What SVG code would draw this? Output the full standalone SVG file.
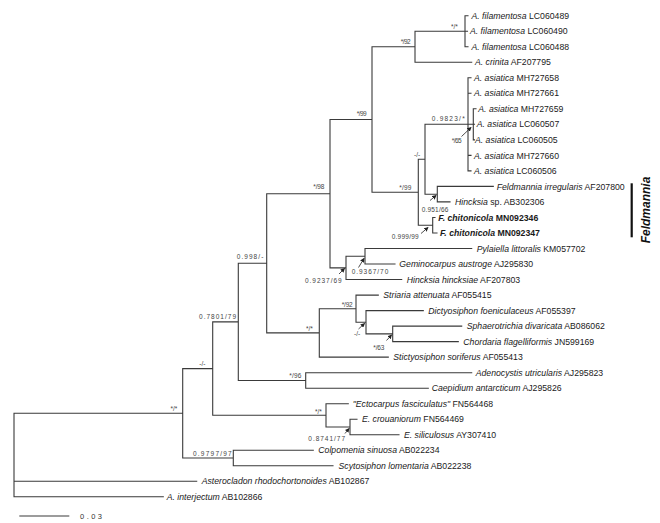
<svg xmlns="http://www.w3.org/2000/svg" width="660" height="523" viewBox="0 0 660 523">
<style>
.br{fill:none;stroke:#3a3a3a;stroke-width:1.1;stroke-linecap:square}
.lf{font-family:"Liberation Sans",Arial,sans-serif;font-size:8.7px;fill:#1a1a1a}
.it{font-style:italic}
.bd{font-weight:bold}
.sp{font-family:"Liberation Sans",Arial,sans-serif;font-size:6.5px;fill:#444}
.ar{stroke:#222;stroke-width:0.8;fill:none}
</style>
<defs>
<marker id="ah" viewBox="0 0 6 6" refX="5" refY="3" markerWidth="4.5" markerHeight="4.5" markerUnits="userSpaceOnUse" orient="auto">
<path d="M0,0 L6,3 L0,6 z" fill="#222"/>
</marker>
</defs>
<rect width="660" height="523" fill="#fff"/>
<g id="connectors">
<path class="br" d="M14,413.3 V496.8 M14,413.3 H182.7 M14,481.3 H196.7 M14,496.8 H163.3
M182.7,368.6 V458 M182.7,368.6 H212.7 M182.7,458 H233.3
M233.3,450.3 V465.8 M233.3,450.3 H313.3 M233.3,465.8 H333
M212.7,321.9 V415.3 M212.7,321.9 H238.3 M212.7,415.3 H326
M326,403.7 V427 M326,403.7 H348.3 M326,427 H350
M350,419.2 V434.7 M350,419.2 H357 M350,434.7 H399
M238.3,263.3 V380.5 M238.3,263.3 H266.7 M238.3,380.5 H305.7
M305.7,372.7 V388.2 M305.7,372.7 H471.7 M305.7,388.2 H428.3
M266.7,193.7 V332.9 M266.7,193.7 H330 M266.7,332.9 H319.3
M319.3,308.7 V357.1 M319.3,308.7 H356 M319.3,357.1 H388.3
M356,295.1 V322.3 M356,295.1 H378.3 M356,322.3 H366
M366,310.6 V333.9 M366,310.6 H423.3 M366,333.9 H392.7
M392.7,326.1 V341.6 M392.7,326.1 H461.7 M392.7,341.6 H458.3
M330,119.5 V267.9 M330,119.5 H372 M330,267.9 H346
M346,256.3 V279.5 M346,256.3 H365 M346,279.5 H401.7
M365,248.5 V264 M365,248.5 H471.7 M365,264 H395
M372,46.75 V192.3 M372,46.75 H415 M372,192.3 H418.3
M415,31.2 V62.3 M415,31.2 H465 M415,62.3 H471.7
M465,15.7 V46.7 M465,15.7 H468 M465,31.2 H467.5 M465,46.7 H468
M418.3,159.3 V225.2 M418.3,159.3 H425 M418.3,225.2 H432.7
M425,124.3 V194.2 M425,124.3 H468 M425,194.2 H437.3
M468,77.8 V170.9 M468,77.8 H471 M468,93.3 H471 M468,124.3 H473.3 M468,155.4 H471 M468,170.9 H471
M473.3,108.8 V139.9 M473.3,108.8 H476 M473.3,124.3 H474.5 M473.3,139.9 H474.5
M437.3,186.4 V201.9 M437.3,186.4 H493.3 M437.3,201.9 H450
M432.7,217.5 V233 M432.7,217.5 H435 M432.7,233 H437"/>
<path class="ar" marker-end="url(#ah)" d="M461.5,136.5 L471,127.5"/>
<path class="ar" marker-end="url(#ah)" d="M430,200.5 L436,195.5"/>
<path class="ar" marker-end="url(#ah)" d="M421,233.5 L428,227.5"/>
<path class="ar" marker-end="url(#ah)" d="M358.5,267.5 L364,258.5"/>
<path class="ar" marker-end="url(#ah)" d="M339,274 L344.5,268.5"/>
<path class="ar" marker-end="url(#ah)" d="M358.5,329 L364.5,323.5"/>
<path class="ar" marker-end="url(#ah)" d="M386.5,340.5 L391.5,335"/>
<path class="ar" marker-end="url(#ah)" d="M345,433.5 L349,428.5"/>
</g>
<g id="supports" class="sp">
<text x="451" y="28.5">*/*</text>
<text x="400.7" y="44" textLength="10">*/92</text>
<text x="356.7" y="116" textLength="10">*/99</text>
<text x="431.7" y="121" textLength="33">0.9823/*</text>
<text x="451.7" y="142.5" textLength="10">*/65</text>
<text x="414" y="156.5">-/-</text>
<text x="313.3" y="189" textLength="11">*/98</text>
<text x="399.3" y="189.5" textLength="12">*/99</text>
<text x="421.7" y="211.5" textLength="26.6">0.951/66</text>
<text x="391.7" y="239" textLength="27">0.999/99</text>
<text x="236.7" y="259" textLength="26.6">0.998/-</text>
<text x="351.7" y="274" textLength="36.6">0.9367/70</text>
<text x="305" y="283" textLength="36.6">0.9237/69</text>
<text x="341.7" y="306.5" textLength="11">*/92</text>
<text x="199" y="318.5" textLength="37">0.7801/79</text>
<text x="306" y="331">*/*</text>
<text x="354" y="335.5">-/-</text>
<text x="373.3" y="349.5" textLength="11">*/63</text>
<text x="199.3" y="366">-/-</text>
<text x="289.3" y="378" textLength="12">*/96</text>
<text x="170.5" y="410.5">*/*</text>
<text x="315" y="414">*/*</text>
<text x="308.3" y="441" textLength="36.7">0.8741/77</text>
<text x="193" y="456" textLength="38.7">0.9797/97</text>
</g>
<g id="leaves" class="lf">
<g id="n1"><text x="471.5" y="18.8"><tspan class="it">A. filamentosa</tspan> LC060489</text></g>
<g id="n2"><text x="470" y="34.3"><tspan class="it">A. filamentosa</tspan> LC060490</text></g>
<g id="n3"><text x="471.5" y="49.8"><tspan class="it">A. filamentosa</tspan> LC060488</text></g>
<g id="n4"><text x="475" y="65.4"><tspan class="it">A. crinita</tspan> AF207795</text></g>
<g id="n5"><text x="474" y="80.9"><tspan class="it">A. asiatica</tspan> MH727658</text></g>
<g id="n6"><text x="474" y="96.4"><tspan class="it">A. asiatica</tspan> MH727661</text></g>
<g id="n7"><text x="478.3" y="111.9"><tspan class="it">A. asiatica</tspan> MH727659</text></g>
<g id="n8"><text x="476.7" y="127.4"><tspan class="it">A. asiatica</tspan> LC060507</text></g>
<g id="n9"><text x="475" y="143"><tspan class="it">A. asiatica</tspan> LC060505</text></g>
<g id="n10"><text x="474" y="158.5"><tspan class="it">A. asiatica</tspan> MH727660</text></g>
<g id="n11"><text x="474" y="174"><tspan class="it">A. asiatica</tspan> LC060506</text></g>
<g id="n12"><text x="496.7" y="189.5"><tspan class="it">Feldmannia irregularis</tspan> AF207800</text></g>
<g id="n13"><text x="455" y="205"><tspan class="it">Hincksia</tspan> sp. AB302306</text></g>
<g id="n14"><text class="bd" x="438.3" y="220.6"><tspan class="it">F. chitonicola</tspan> MN092346</text></g>
<g id="n15"><text class="bd" x="440" y="236.1"><tspan class="it">F. chitonicola</tspan> MN092347</text></g>
<g id="n16"><text x="476.7" y="251.6"><tspan class="it">Pylaiella littoralis</tspan> KM057702</text></g>
<g id="n17"><text x="399.3" y="267.1"><tspan class="it">Geminocarpus austroge</tspan> AJ295830</text></g>
<g id="n18"><text x="406.7" y="282.6"><tspan class="it">Hincksia hincksiae</tspan> AF207803</text></g>
<g id="n19"><text x="383.3" y="298.2"><tspan class="it">Striaria attenuata</tspan> AF055415</text></g>
<g id="n20"><text x="428.3" y="313.7"><tspan class="it">Dictyosiphon foeniculaceus</tspan> AF055397</text></g>
<g id="n21"><text x="466.7" y="329.2"><tspan class="it">Sphaerotrichia divaricata</tspan> AB086062</text></g>
<g id="n22"><text x="463.3" y="344.7"><tspan class="it">Chordaria flagelliformis</tspan> JN599169</text></g>
<g id="n23"><text x="393.3" y="360.2"><tspan class="it">Stictyosiphon soriferus</tspan> AF055413</text></g>
<g id="n24"><text x="475.7" y="375.8"><tspan class="it">Adenocystis utricularis</tspan> AJ295823</text></g>
<g id="n25"><text x="431.7" y="391.3"><tspan class="it">Caepidium antarcticum</tspan> AJ295826</text></g>
<g id="n26"><text x="352.7" y="406.8"><tspan class="it">"Ectocarpus fasciculatus"</tspan> FN564468</text></g>
<g id="n27"><text x="362" y="422.3"><tspan class="it">E. crouaniorum</tspan> FN564469</text></g>
<g id="n28"><text x="404" y="437.8"><tspan class="it">E. siliculosus</tspan> AY307410</text></g>
<g id="n29"><text x="318.3" y="453.4"><tspan class="it">Colpomenia sinuosa</tspan> AB022234</text></g>
<g id="n30"><text x="338.5" y="468.9"><tspan class="it">Scytosiphon lomentaria</tspan> AB022238</text></g>
<g id="n31"><text x="201.7" y="484.4"><tspan class="it">Asterocladon rhodochortonoides</tspan> AB102867</text></g>
<g id="n32"><text x="166.7" y="499.9"><tspan class="it">A. interjectum</tspan> AB102866</text></g>
</g>
<g id="feldmannia">
<line x1="631.7" y1="183.3" x2="631.7" y2="237.3" stroke="#111" stroke-width="2.2"/>
<text transform="translate(650,210) rotate(-90)" text-anchor="middle" font-family="Liberation Sans, Arial, sans-serif" font-size="12" font-weight="bold" font-style="italic" fill="#111">Feldmannia</text>
</g>
<g id="scale">
<line x1="19.3" y1="516" x2="69.3" y2="516" stroke="#3a3a3a" stroke-width="1.1"/>
<text x="80" y="519" font-family="Liberation Sans, Arial, sans-serif" font-size="7.5" fill="#333" textLength="22">0.03</text>
</g>
</svg>
